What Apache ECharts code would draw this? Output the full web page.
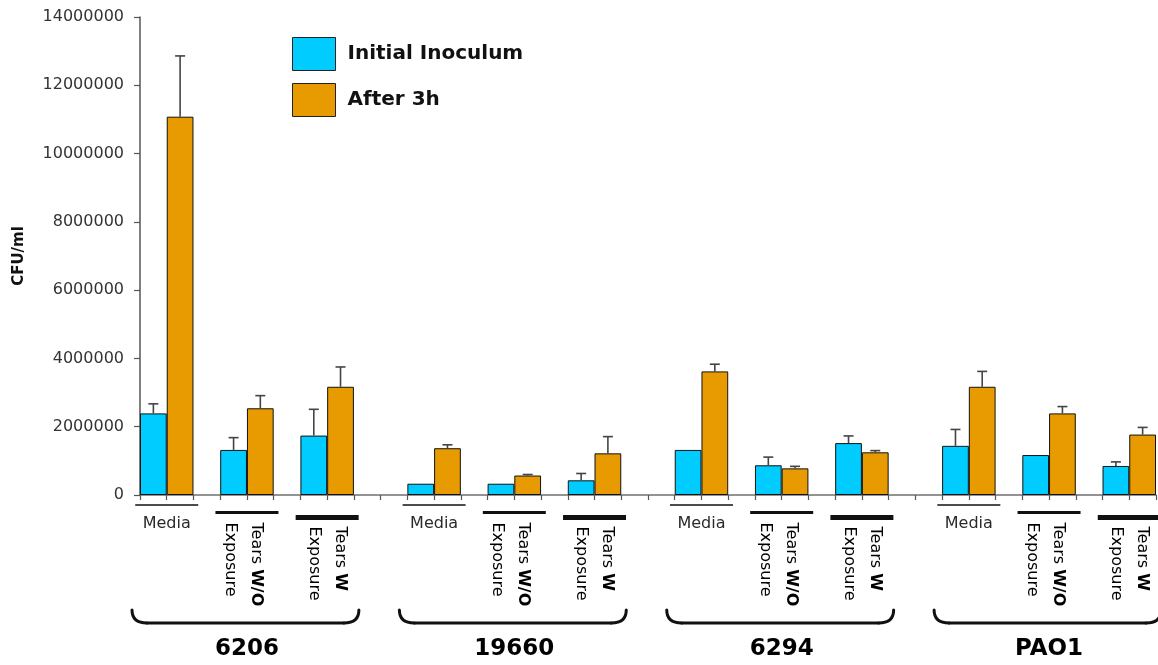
<!DOCTYPE html>
<html>
<head>
<meta charset="utf-8">
<title>CFU/ml – Initial Inoculum vs After 3h</title>
<script src="https://cdn.jsdelivr.net/npm/echarts@6/dist/echarts.min.js"></script>
<style>
  html, body { margin: 0; padding: 0; background: #fff; }
  #chart { width: 1158px; height: 665px; }
</style>
</head>
<body>
<div id="chart"></div>
<script>
// Strains and exposure conditions (one pair of bars per strain × condition)
const strains = ['6206', '19660', '6294', 'PAO1'];
const conditions = ['Media', 'Tears W/O Exposure', 'Tears W Exposure'];

// CFU/ml, ordered strain by strain, condition by condition
const initialInoculum = [2390000, 1320000, 1740000, 330000, 330000, 430000, 1320000, 870000, 1520000, 1440000, 1170000, 850000];
const initialErr      = [280000, 360000, 770000, 0, 0, 200000, 0, 240000, 210000, 480000, 0, 120000];
const after3h         = [11080000, 2540000, 3170000, 1370000, 570000, 1220000, 3620000, 780000, 1250000, 3170000, 2390000, 1770000];
const after3hErr      = [1780000, 370000, 580000, 100000, 30000, 490000, 210000, 60000, 50000, 450000, 200000, 210000];

// Y axis ticks
const yTicks = [0, 2000000, 4000000, 6000000, 8000000, 10000000, 12000000, 14000000];

// Category slots: each bar takes one slot, one empty slot after each pair,
// and one more empty slot between strains.
const SLOTS_PER_STRAIN = 10;
const slotCount = SLOTS_PER_STRAIN * (strains.length - 1) + 3 * conditions.length - 1;
function firstSlot(g, c) { return g * SLOTS_PER_STRAIN + c * 3; }

const slotNames = Array.from({ length: slotCount }, (_, i) => 's' + i);
const cyanData = new Array(slotCount).fill(null);
const orangeData = new Array(slotCount).fill(null);
const cyanErrData = [];
const orangeErrData = [];
strains.forEach((s, g) => {
  conditions.forEach((c, k) => {
    const i = g * conditions.length + k;
    const slot = firstSlot(g, k);
    cyanData[slot] = initialInoculum[i];
    orangeData[slot + 1] = after3h[i];
    if (initialErr[i] > 0) cyanErrData.push([slot, initialInoculum[i], initialErr[i]]);
    if (after3hErr[i] > 0) orangeErrData.push([slot + 1, after3h[i], after3hErr[i]]);
  });
});

const FONT = '"DejaVu Sans", "Liberation Sans", Arial, sans-serif';
const CYAN = '#00CCFF';
const ORANGE = '#E89B00';

// Upper error whisker with a short cap
function errorBar(params, api) {
  const x = api.value(0);
  const v = api.value(1);
  const e = api.value(2);
  const base = api.coord([x, v]);
  const top = api.coord([x, v + e]);
  const style = { stroke: '#444', lineWidth: 1.6 };
  return {
    type: 'group',
    children: [
      { type: 'line', shape: { x1: base[0], y1: base[1], x2: top[0], y2: top[1] }, style },
      { type: 'line', shape: { x1: top[0] - 5, y1: top[1], x2: top[0] + 5, y2: top[1] }, style }
    ]
  };
}

const chart = echarts.init(document.getElementById('chart'), null, { renderer: 'canvas' });

chart.setOption({
  animation: false,
  backgroundColor: '#fff',
  grid: { left: 140, right: 2, top: 17, bottom: 170, containLabel: false },
  legend: {
    data: ['Initial Inoculum', 'After 3h'],
    orient: 'vertical',
    left: 292,
    top: 37,
    padding: 0,
    itemWidth: 43,
    itemHeight: 33,
    itemGap: 12,
    icon: 'rect',
    selectedMode: false,
    itemStyle: { borderColor: '#222', borderWidth: 1 },
    textStyle: { fontFamily: FONT, fontSize: 20, fontWeight: 'bold', color: '#111', padding: [0, 0, 0, 7] }
  },
  xAxis: {
    type: 'category',
    data: slotNames,
    boundaryGap: true,
    axisLine: { show: true, lineStyle: { color: '#707070', width: 1.5 } },
    axisTick: { show: true, interval: 0, length: 5, lineStyle: { color: '#555', width: 1.2 } },
    axisLabel: { show: false },
    splitLine: { show: false }
  },
  yAxis: {
    type: 'value',
    min: yTicks[0],
    max: yTicks[yTicks.length - 1],
    interval: yTicks[1] - yTicks[0],
    name: 'CFU/ml',
    nameLocation: 'middle',
    nameRotate: 90,
    nameGap: 113,
    nameTextStyle: { fontFamily: FONT, fontSize: 15, fontWeight: 'bold', color: '#111' },
    axisLine: { show: true, lineStyle: { color: '#555', width: 1.5 } },
    axisTick: { show: true, length: 6, lineStyle: { color: '#555', width: 1.2 } },
    axisLabel: { fontFamily: FONT, fontSize: 16, color: '#333', margin: 16, formatter: v => String(v) },
    splitLine: { show: false }
  },
  series: [
    {
      name: 'Initial Inoculum', type: 'bar', data: cyanData,
      barWidth: '100%', barGap: '-100%',
      itemStyle: { color: CYAN, borderColor: '#111', borderWidth: 1 }
    },
    {
      name: 'After 3h', type: 'bar', data: orangeData,
      barWidth: '100%', barGap: '-100%',
      itemStyle: { color: ORANGE, borderColor: '#111', borderWidth: 1 }
    },
    { name: 'err-initial', type: 'custom', renderItem: errorBar, data: cyanErrData, encode: { x: 0, y: 1 }, z: 5 },
    { name: 'err-after', type: 'custom', renderItem: errorBar, data: orangeErrData, encode: { x: 0, y: 1 }, z: 5 }
  ]
});

// Condition labels, underlines, strain brackets and strain names below the axis
function slotX(i) { return chart.convertToPixel({ xAxisIndex: 0 }, i); }
const axisY = chart.convertToPixel({ yAxisIndex: 0 }, 0);
const slotW = slotX(1) - slotX(0);

const underline = [
  { dy: 10, width: 1.5 },
  { dy: 17.5, width: 3 },
  { dy: 22.5, width: 5 }
];
const labelRich = {
  n: { fontFamily: FONT, fontSize: 16, color: '#2a2a2a', lineHeight: 26 },
  b: { fontFamily: FONT, fontSize: 16, fontWeight: 'bold', color: '#000', lineHeight: 26 }
};
const labelText = [
  null,
  '{n|Tears }{b|W/O}\n{n|Exposure}',
  '{n|Tears }{b|W}\n{n|Exposure}'
];
const labelShift = [0, -4, 0];
const labelTop = [0, 27.5, 31.5];

const bracketStyle = { stroke: '#111', lineWidth: 3, fill: null, lineCap: 'round' };

const elements = [];
strains.forEach((s, g) => {
  conditions.forEach((c, k) => {
    const slot = firstSlot(g, k);
    const cx = (slotX(slot) + slotX(slot + 1)) / 2;
    const u = underline[k];
    elements.push({
      type: 'line',
      shape: { x1: cx - 31.5, y1: axisY + u.dy, x2: cx + 31.5, y2: axisY + u.dy },
      style: { stroke: '#111', lineWidth: u.width }
    });
    if (k === 0) {
      elements.push({
        type: 'text', x: cx, y: axisY + 29,
        style: { text: c, font: '16px ' + FONT, fill: '#2a2a2a', align: 'center', verticalAlign: 'middle' }
      });
    } else {
      elements.push({
        type: 'text', x: cx + labelShift[k], y: axisY + labelTop[k], rotation: -Math.PI / 2,
        style: { text: labelText[k], rich: labelRich, align: 'left', verticalAlign: 'middle' }
      });
    }
  });
  // Rounded bracket spanning the strain's bars
  const first = firstSlot(g, 0);
  const last = firstSlot(g, conditions.length - 1) + 1;
  const xl = slotX(first) - slotW / 2 - 8;
  const xr = slotX(last) + slotW / 2 + 5;
  const yt = axisY + 115;
  const yb = axisY + 128;
  const r = 15;
  elements.push({
    type: 'bezierCurve',
    shape: { x1: xl, y1: yt, x2: xl + r, y2: yb, cpx1: xl, cpy1: yb },
    style: bracketStyle
  });
  elements.push({
    type: 'line',
    shape: { x1: xl + r, y1: yb, x2: xr - r, y2: yb },
    style: bracketStyle
  });
  elements.push({
    type: 'bezierCurve',
    shape: { x1: xr - r, y1: yb, x2: xr, y2: yt, cpx1: xr, cpy1: yb },
    style: bracketStyle
  });
  elements.push({
    type: 'text', x: (slotX(first) + slotX(last)) / 2, y: axisY + 154,
    style: { text: s, font: 'bold 23px ' + FONT, fill: '#000', align: 'center', verticalAlign: 'middle' }
  });
});

chart.setOption({ graphic: { elements } });
</script>
</body>
</html>
